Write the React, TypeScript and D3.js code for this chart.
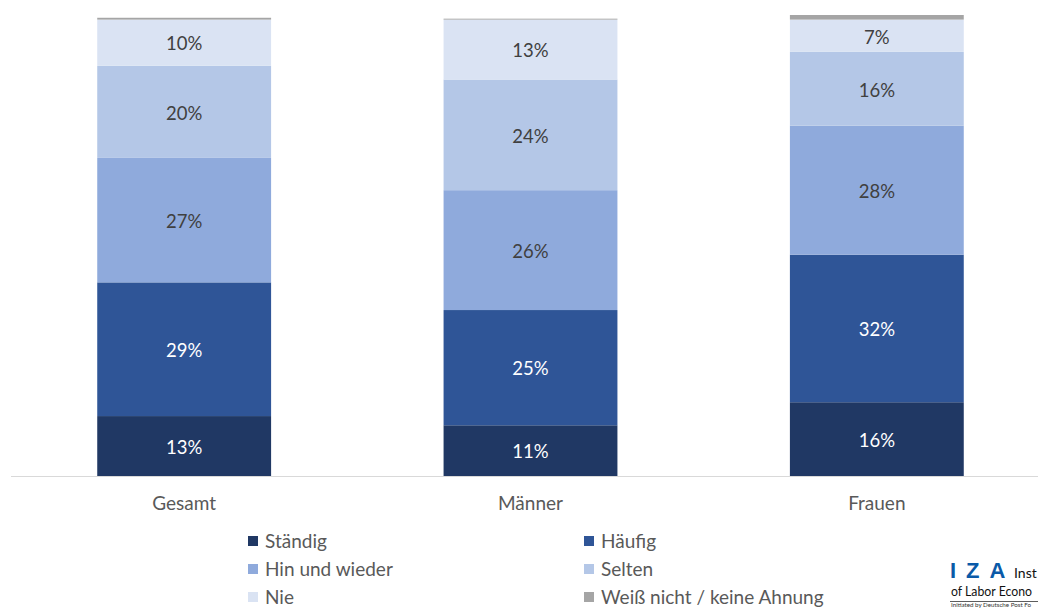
import * as d3 from 'd3';

const CATEGORIES = ['Gesamt', 'Männer', 'Frauen'];
const SERIES = ['Ständig', 'Häufig', 'Hin und wieder', 'Selten', 'Nie', 'Weiß nicht / keine Ahnung'];

// values per series, one per category (percent)
const STAENDIG = [13, 11, 16];
const HAEUFIG = [29, 25, 32];
const HIN_UND_WIEDER = [27, 26, 28];
const SELTEN = [20, 24, 16];
const NIE = [10, 13, 7];
const WEISS_NICHT = [0.4, 0.2, 1];

const VALUES = [STAENDIG, HAEUFIG, HIN_UND_WIEDER, SELTEN, NIE, WEISS_NICHT];
const COLORS = ['#203864', '#2f5597', '#8faadc', '#b4c7e7', '#dae3f3', '#a5a5a5'];
const LABEL_COLORS = ['#ffffff', '#ffffff', '#404040', '#404040', '#404040', null];

const W = 1038;
const H = 609;
const FONT = 'Lato, "Open Sans", sans-serif';

export default function App() {
  const x = d3.scaleBand<string>().domain(CATEGORIES).range([11, 1050]).paddingInner(0.498).paddingOuter(0.249);
  const y = d3.scaleLinear().domain([0, 100]).range([476, 15]);

  const rows = CATEGORIES.map((c, i) => {
    const r: Record<string, number | string> = { cat: c };
    SERIES.forEach((s, j) => (r[s] = VALUES[j][i]));
    return r;
  });
  const stacked = d3.stack<Record<string, number | string>>().keys(SERIES)(rows as any);

  const legendX = [248, 584];
  const legendY = [541, 569, 597];

  return (
    <div style={{ position: 'absolute', left: 0, top: 0 }}>
      <svg width={W} height={H} style={{ display: 'block', fontFamily: FONT }}>
        <rect width={W} height={H} fill="#fff" />
        {stacked.map((layer, j) => (
          <g key={SERIES[j]}>
            {layer.map((d, i) => {
              const x0 = x(CATEGORIES[i]) ?? 0;
              const y0 = y(d[1]);
              const h = y(d[0]) - y(d[1]);
              return (
                <g key={i}>
                  <rect x={x0} y={y0} width={x.bandwidth()} height={h} fill={COLORS[j]} />
                  {LABEL_COLORS[j] && (
                    <text
                      x={x0 + x.bandwidth() / 2}
                      y={y0 + h / 2}
                      dy="0.42em"
                      textAnchor="middle"
                      fontSize={18.5}
                      fill={LABEL_COLORS[j] as string}
                    >
                      {`${Math.round(d[1] - d[0])}%`}
                    </text>
                  )}
                </g>
              );
            })}
          </g>
        ))}
        <line x1={11} x2={1050} y1={476.5} y2={476.5} stroke="#d9d9d9" strokeWidth={1} />
        {CATEGORIES.map((c) => (
          <text
            key={c}
            x={(x(c) ?? 0) + x.bandwidth() / 2}
            y={510}
            textAnchor="middle"
            fontSize={19}
            fill="#595959"
          >
            {c}
          </text>
        ))}
        {SERIES.map((s, j) => {
          const lx = legendX[j % 2];
          const ly = legendY[Math.floor(j / 2)];
          return (
            <g key={s}>
              <rect x={lx} y={ly - 5} width={10} height={10} fill={COLORS[j]} />
              <text x={lx + 17} y={ly} dy="0.38em" fontSize={19} fill="#595959">
                {s}
              </text>
            </g>
          );
        })}
        {/* IZA logo, cut off at the right edge like in the reference */}
        <g>
          <text x={950} y={578} fontSize={22} fontWeight="bold" fill="#0a5aa8" fontFamily="'Liberation Sans', Arial, sans-serif" letterSpacing={10}>
            IZA
          </text>
          <text x={1014} y={578} fontSize={14} fill="#111">Inst</text>
          <text x={951} y={596} fontSize={14} fill="#111" textLength={81} lengthAdjust="spacingAndGlyphs">of Labor Econo</text>
          <line x1={950} x2={1038} y1={601.5} y2={601.5} stroke="#333" strokeWidth={0.8} />
          <text x={951} y={607} fontSize={6.5} fill="#333" textLength={80} lengthAdjust="spacingAndGlyphs">Initiated by Deutsche Post Fo</text>
        </g>
      </svg>
    </div>
  );
}
